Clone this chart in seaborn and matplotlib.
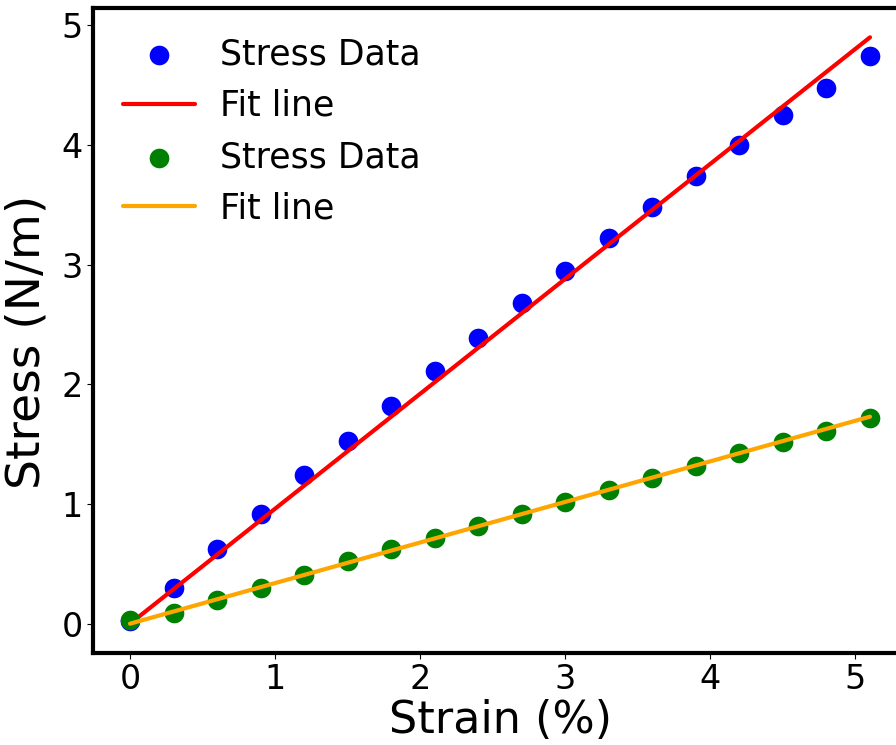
import matplotlib
matplotlib.use("Agg")
import matplotlib.pyplot as plt
import seaborn as sns
import numpy as np
import pandas as pd

# ---- data ----
strain = [0.0, 0.3, 0.6, 0.9, 1.2, 1.5, 1.8, 2.1, 2.4, 2.7, 3.0, 3.3, 3.6, 3.9, 4.2, 4.5, 4.8, 5.1]
stress_a = [0.02, 0.30, 0.62, 0.92, 1.24, 1.53, 1.82, 2.11, 2.39, 2.68, 2.95, 3.22, 3.48, 3.74, 4.00, 4.25, 4.48, 4.74]
stress_b = [0.03, 0.09, 0.20, 0.30, 0.41, 0.52, 0.62, 0.72, 0.82, 0.92, 1.02, 1.12, 1.22, 1.32, 1.43, 1.52, 1.61, 1.72]
fit_x = [0.0, 5.1]
fit_a = [0.0, 4.90]
fit_b = [0.0, 1.73]

sns.set_style("ticks")
plt.rcParams['font.family'] = ['DejaVu Sans']
plt.rcParams.update({
    "text.color": "black",
    "axes.labelcolor": "black",
    "xtick.color": "black",
    "ytick.color": "black",
    "axes.edgecolor": "black",
})

fig = plt.figure(figsize=(8.96, 7.45), dpi=100)
ax = fig.add_axes([93/896, 92/745, (907-93)/896, (653-8)/745])

sns.scatterplot(x=strain, y=stress_a, ax=ax, color="blue", s=200, linewidth=0, label="Stress Data", zorder=2)
sns.lineplot(x=fit_x, y=fit_a, ax=ax, color="red", linewidth=3, label="Fit line", zorder=3)
sns.scatterplot(x=strain, y=stress_b, ax=ax, color="green", s=200, linewidth=0, label="Stress Data", zorder=4)
sns.lineplot(x=fit_x, y=fit_b, ax=ax, color="orange", linewidth=3, label="Fit line", zorder=5)

ax.set_xlabel("Strain (%)", fontsize=32, labelpad=2)
ax.set_ylabel("Stress (N/m)", fontsize=34)
ax.yaxis.set_label_coords(-0.053, 0.483)
ax.set_xticks([0, 1, 2, 3, 4, 5])
ax.set_yticks([0, 1, 2, 3, 4, 5])
ax.tick_params(axis='both', labelsize=24, length=4, width=0.8)
for sp in ax.spines.values():
    sp.set_linewidth(3)
    sp.set_color("black")

ax.legend(loc="upper left", frameon=False, fontsize=25, handlelength=2.1,
          handletextpad=0.72, borderaxespad=0.45)

fig.savefig("out.png", dpi=100)
